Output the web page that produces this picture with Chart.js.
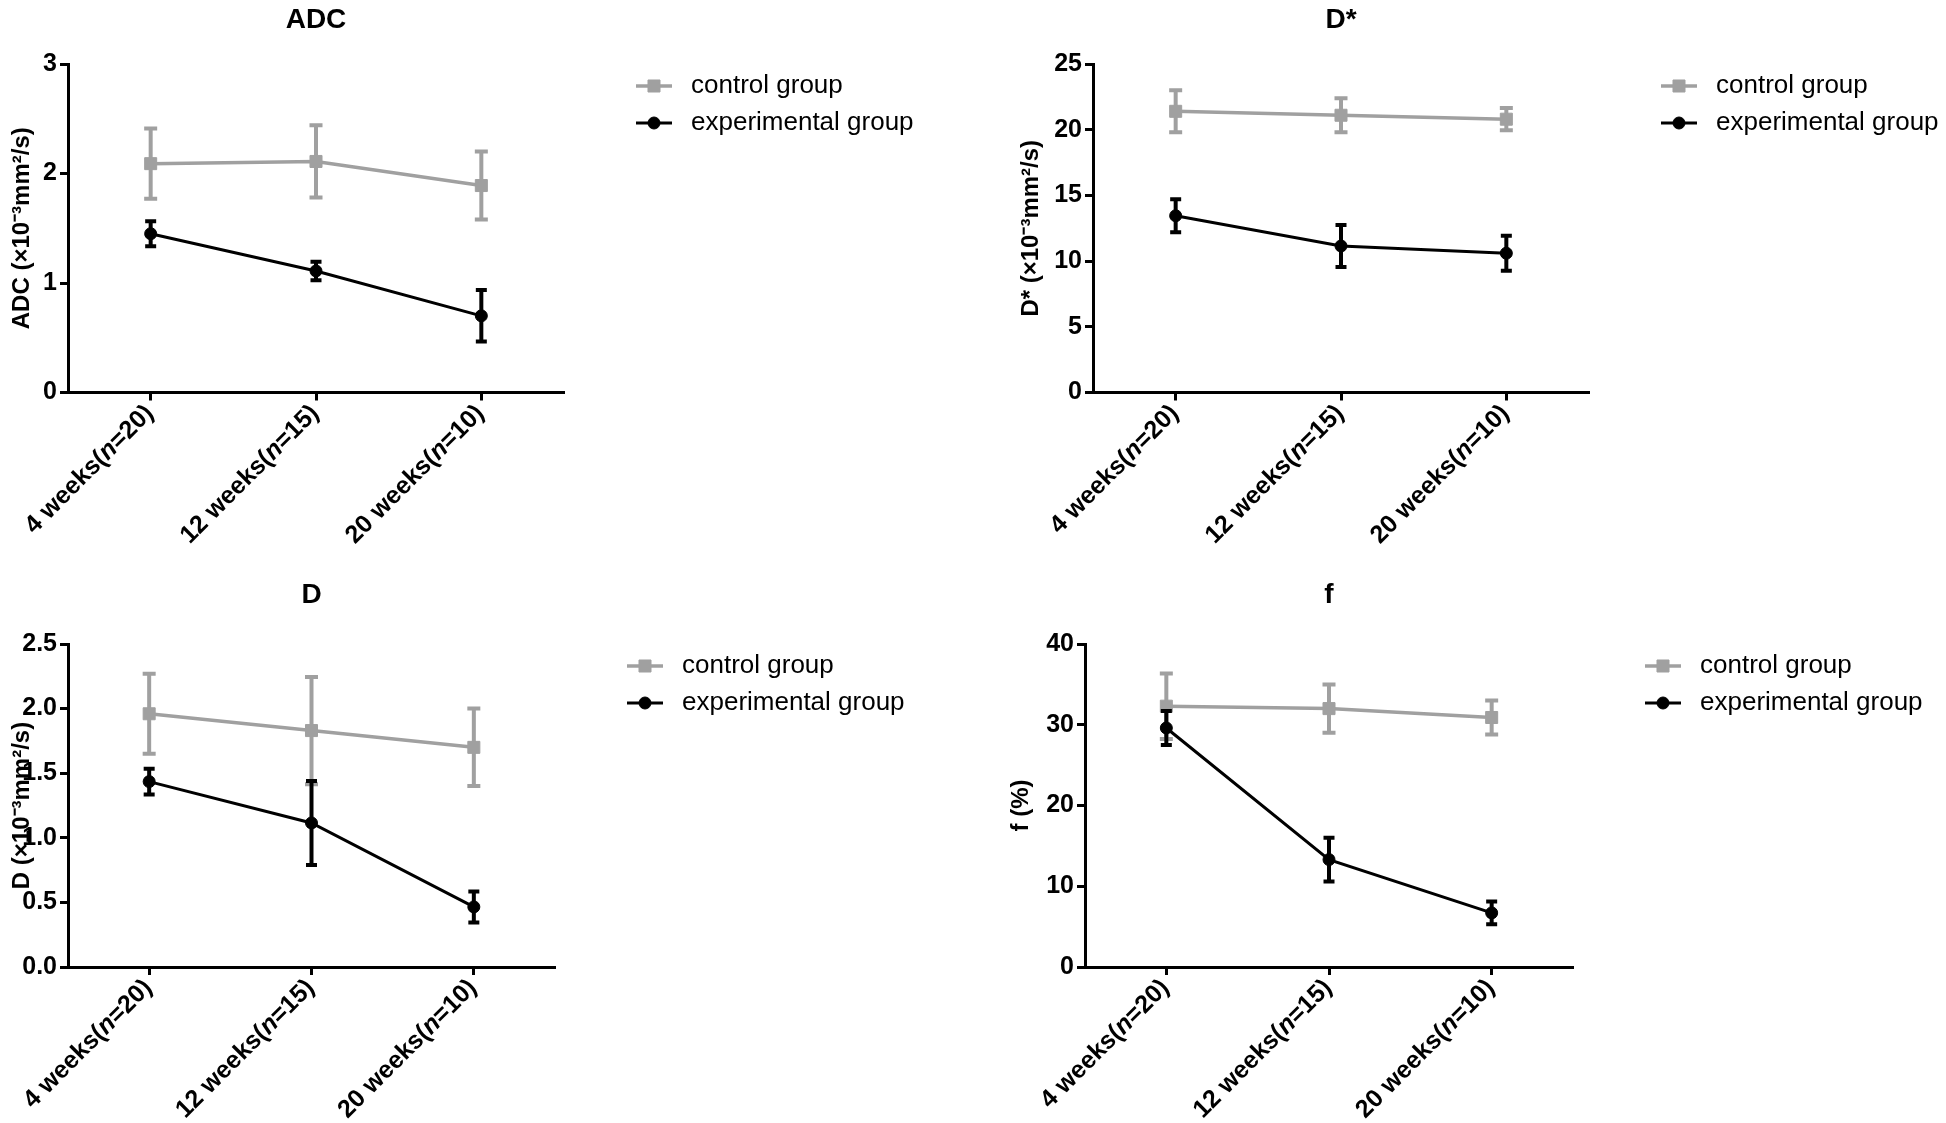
<!DOCTYPE html>
<html><head><meta charset="utf-8">
<script src="https://cdn.jsdelivr.net/npm/chart.js@4.4.0/dist/chart.umd.min.js"></script>
<style>
html,body{margin:0;padding:0;background:#fff;}
#wrap{position:relative;width:1946px;height:1123px;overflow:hidden;background:#fff;}
.panel{position:absolute;}
canvas{display:block;}
</style></head><body>
<div id="wrap">
<div class="panel" style="left:0;top:0;"><canvas id="c1" width="973" height="561"></canvas></div>
<div class="panel" style="left:973px;top:0;"><canvas id="c2" width="973" height="561"></canvas></div>
<div class="panel" style="left:0;top:561px;"><canvas id="c3" width="973" height="562"></canvas></div>
<div class="panel" style="left:973px;top:561px;"><canvas id="c4" width="973" height="562"></canvas></div>
</div>
<script>
// ---- data ----
const categories = ["4 weeks(n=20)", "12 weeks(n=15)", "20 weeks(n=10)"];
const seriesNames = ["control group", "experimental group"];

const adcControl   = [2.09, 2.11, 1.89];
const adcControlSD = [0.32, 0.33, 0.31];
const adcExp       = [1.45, 1.11, 0.70];
const adcExpSD     = [0.115, 0.085, 0.235];

const dstarControl   = [21.4, 21.1, 20.8];
const dstarControlSD = [1.6, 1.3, 0.85];
const dstarExp       = [13.45, 11.15, 10.6];
const dstarExpSD     = [1.25, 1.6, 1.33];

const dControl   = [1.96, 1.83, 1.70];
const dControlSD = [0.31, 0.415, 0.30];
const dExp       = [1.435, 1.115, 0.465];
const dExpSD     = [0.10, 0.325, 0.12];

const fControl   = [32.3, 32.0, 30.9];
const fControlSD = [4.05, 3.0, 2.1];
const fExp       = [29.6, 13.3, 6.7];
const fExpSD     = [2.1, 2.7, 1.4];

const yTicksADC = [0, 1, 2, 3];
const yTicksDstar = [0, 5, 10, 15, 20, 25];
const yTicksD = [0, 0.5, 1.0, 1.5, 2.0, 2.5];
const yTicksF = [0, 10, 20, 30, 40];

// ---- styling ----
const FONT = "'Liberation Sans', Arial, Helvetica, sans-serif";
const GRAY = '#a0a0a0';
const BLACK = '#000000';

const errorBarPlugin = {
  id: 'errorBars',
  beforeDatasetDraw(chart, args) {
    const ds = chart.data.datasets[args.index];
    if (!ds.errors) return;
    const {ctx, scales: {x, y}} = chart;
    ctx.save();
    ctx.strokeStyle = ds.borderColor;
    ctx.lineWidth = ds.errorLineWidth;
    ctx.lineCap = 'butt';
    ds.data.forEach((v, i) => {
      const px = x.getPixelForValue(i);
      const top = y.getPixelForValue(v + ds.errors[i]);
      const bot = y.getPixelForValue(v - ds.errors[i]);
      const h = ds.capHalf;
      ctx.beginPath();
      ctx.moveTo(px, top); ctx.lineTo(px, bot);
      ctx.moveTo(px - h, top); ctx.lineTo(px + h, top);
      ctx.moveTo(px - h, bot); ctx.lineTo(px + h, bot);
      ctx.stroke();
    });
    ctx.restore();
  }
};

const sideLegendPlugin = {
  id: 'sideLegend',
  afterDraw(chart, args, opts) {
    const {ctx, chartArea} = chart;
    const cx = chartArea.right + opts.dx;
    chart.data.datasets.forEach((ds, i) => {
      const y = chartArea.top + opts.dy + i * opts.rowGap;
      ctx.save();
      ctx.strokeStyle = ds.borderColor;
      ctx.lineWidth = ds.borderWidth;
      ctx.beginPath();
      ctx.moveTo(cx - opts.half, y); ctx.lineTo(cx + opts.half, y);
      ctx.stroke();
      ctx.fillStyle = ds.pointBackgroundColor;
      ctx.strokeStyle = ds.pointBorderColor;
      ctx.lineWidth = ds.pointBorderWidth;
      ctx.beginPath();
      if (ds.pointStyle === 'rect') {
        const s = Math.SQRT1_2 * ds.pointRadius;
        ctx.rect(cx - s, y - s, 2 * s, 2 * s);
      } else {
        ctx.arc(cx, y, ds.pointRadius, 0, Math.PI * 2);
      }
      ctx.fill(); ctx.stroke();
      ctx.fillStyle = '#000';
      ctx.font = opts.font;
      ctx.textBaseline = 'middle';
      ctx.textAlign = 'left';
      ctx.fillText(ds.label, cx + opts.textDx, y);
      ctx.restore();
    });
  }
};

const xLabelPlugin = {
  id: 'xLabels',
  afterDraw(chart, args, opts) {
    const {ctx, scales: {x}, chartArea} = chart;
    const fontN = `bold ${opts.size}px ${FONT}`;
    const fontI = `italic bold ${opts.size}px ${FONT}`;
    chart.data.labels.forEach((lab, i) => {
      const px = x.getPixelForValue(i);
      const m = lab.match(/^(.*\()n(=.*)$/);
      const parts = m ? [[m[1], false], ['n', true], [m[2], false]] : [[lab, false]];
      ctx.save();
      ctx.translate(px + opts.dx, chartArea.bottom + opts.dy);
      ctx.rotate(-Math.PI / 4);
      ctx.textBaseline = 'middle';
      ctx.textAlign = 'left';
      ctx.fillStyle = '#000';
      let total = 0;
      parts.forEach(([t, it]) => { ctx.font = it ? fontI : fontN; total += ctx.measureText(t).width; });
      let cur = -total;
      parts.forEach(([t, it]) => { ctx.font = it ? fontI : fontN; ctx.fillText(t, cur, 0); cur += ctx.measureText(t).width; });
      ctx.restore();
    });
  }
};

function makeChart(p) {
  const datasets = [
    {
      label: seriesNames[0], data: p.ctrl, errors: p.ctrlSD,
      borderColor: GRAY, backgroundColor: GRAY, borderWidth: 3.5,
      pointStyle: 'rect', pointRadius: 8.5, pointBorderWidth: 1,
      pointBackgroundColor: GRAY, pointBorderColor: GRAY,
      errorLineWidth: 4, capHalf: 6.5, order: 1, tension: 0
    },
    {
      label: seriesNames[1], data: p.exp, errors: p.expSD,
      borderColor: BLACK, backgroundColor: BLACK, borderWidth: 3,
      pointStyle: 'circle', pointRadius: 6, pointBorderWidth: 1,
      pointBackgroundColor: BLACK, pointBorderColor: BLACK,
      errorLineWidth: 4, capHalf: 5.5, order: 0, tension: 0
    }
  ];
  return new Chart(document.getElementById(p.id), {
    type: 'line',
    data: { labels: categories, datasets },
    plugins: [errorBarPlugin, sideLegendPlugin, xLabelPlugin],
    options: {
      responsive: false,
      animation: false,
      devicePixelRatio: 1,
      layout: { padding: { left: 0, right: p.padRight, top: p.padTop, bottom: 0 } },
      plugins: {
        legend: { display: false },
        tooltip: { enabled: false },
        title: {
          display: true, text: p.title, color: '#000', fullSize: false,
          font: { family: FONT, size: 28, weight: 'bold', lineHeight: 1.0 },
          padding: { top: 0, bottom: p.titleGap }
        },
        sideLegend: { dx: 90, dy: 22, rowGap: 37, half: 18, textDx: 37, font: `26px ${FONT}` },
        xLabels: { size: 25, dx: -1, dy: 17 }
      },
      scales: {
        x: {
          type: 'category', offset: true,
          grid: { display: true, drawOnChartArea: false, drawTicks: true, tickLength: 8, tickWidth: 3, tickColor: '#000', offset: false },
          border: { display: true, color: '#000', width: 3 },
          ticks: { display: false },
          afterFit: (s) => { s.height = p.xHeight; }
        },
        y: {
          min: p.yTicks[0], max: p.yTicks[p.yTicks.length - 1],
          afterBuildTicks: (s) => { s.ticks = p.yTicks.map(v => ({ value: v })); },
          grid: { display: true, drawOnChartArea: false, drawTicks: true, tickLength: 8, tickWidth: 3, tickColor: '#000' },
          border: { display: true, color: '#000', width: 3 },
          ticks: {
            color: '#000', padding: 3,
            font: { family: FONT, size: 25, weight: 'bold' },
            callback: (v) => Number(v).toFixed(p.decimals)
          },
          title: {
            display: true, text: p.yTitle, color: '#000',
            font: { family: FONT, size: 24, weight: 'bold' },
            padding: { top: p.yTitlePad, bottom: 0 }
          },
          afterFit: (s) => { s.width = p.yWidth; }
        }
      }
    }
  });
}

const panels = [
  { id: 'c1', title: 'ADC', yTitle: 'ADC (×10⁻³mm²/s)', ctrl: adcControl, ctrlSD: adcControlSD, exp: adcExp, expSD: adcExpSD,
    yTicks: yTicksADC, decimals: 0, yWidth: 68, padRight: 409, padTop: 6, titleGap: 30, xHeight: 168.5, yTitlePad: 7.6 },
  { id: 'c2', title: 'D*', yTitle: 'D* (×10⁻³mm²/s)', ctrl: dstarControl, ctrlSD: dstarControlSD, exp: dstarExp, expSD: dstarExpSD,
    yTicks: yTicksDstar, decimals: 0, yWidth: 120, padRight: 357, padTop: 6, titleGap: 30, xHeight: 168.5, yTitlePad: 43.6 },
  { id: 'c3', title: 'D', yTitle: 'D (×10⁻³mm²/s)', ctrl: dControl, ctrlSD: dControlSD, exp: dExp, expSD: dExpSD,
    yTicks: yTicksD, decimals: 1, yWidth: 68, padRight: 418, padTop: 20, titleGap: 35, xHeight: 156, yTitlePad: 7.6 },
  { id: 'c4', title: 'f', yTitle: 'f (%)', ctrl: fControl, ctrlSD: fControlSD, exp: fExp, expSD: fExpSD,
    yTicks: yTicksF, decimals: 0, yWidth: 112, padRight: 373, padTop: 20, titleGap: 35, xHeight: 156, yTitlePad: 33.6 }
];
panels.forEach(makeChart);
</script>
</body></html>
